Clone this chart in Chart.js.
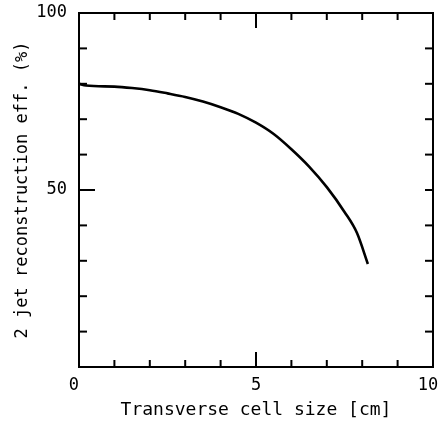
<!DOCTYPE html>
<html>
<head>
<meta charset="utf-8">
<script src="https://cdn.jsdelivr.net/npm/chart.js@4"></script>
<style>
  html, body { margin: 0; padding: 0; background: #fff; }
  .chart-wrapper { width: 441px; height: 422px; position: relative; }
</style>
</head>
<body>
<div class="chart-wrapper"><canvas id="eff-chart"></canvas></div>
<script>
// curve
const cellSize = [0, 0.2, 1, 1.5, 2, 2.5, 3, 3.5, 4, 4.5, 5, 5.5, 6, 6.5, 7, 7.5, 7.85, 8.16];
const efficiency = [80.0, 79.5, 79.2, 78.8, 78.2, 77.3, 76.3, 75.0, 73.4, 71.5, 69.0, 65.8, 61.5, 56.6, 50.8, 43.8, 37.9, 29.1];

const xLabels = [0, 5, 10];
const yLabels = [50, 100];
const xTicks = [1, 2, 3, 4, 5, 6, 7, 8, 9];
const yTicks = [10, 20, 30, 40, 50, 60, 70, 80, 90];

const monoFont = '"DejaVu Sans Mono", monospace';

// frame with inward tick marks on all four sides
const frameTicks = {
  id: 'frameTicks',
  afterDraw(chart) {
    const { ctx, chartArea: a, scales: { x, y } } = chart;
    const seg = (x1, y1, x2, y2) => { ctx.beginPath(); ctx.moveTo(x1, y1); ctx.lineTo(x2, y2); ctx.stroke(); };
    ctx.save();
    ctx.strokeStyle = '#000';
    ctx.lineWidth = 2;
    ctx.strokeRect(a.left, a.top, a.right - a.left, a.bottom - a.top);
    xTicks.forEach(v => {
      const px = x.getPixelForValue(v);
      const len = v === 5 ? 15 : 7;
      seg(px, a.bottom, px, a.bottom - len);
      seg(px, a.top, px, a.top + len);
    });
    yTicks.forEach(v => {
      const py = y.getPixelForValue(v);
      seg(a.left, py, a.left + (v === 50 ? 16 : 8), py);
      seg(a.right, py, a.right - 8, py);
    });
    ctx.restore();
  }
};

const ctx = document.getElementById('eff-chart').getContext('2d');
new Chart(ctx, {
  type: 'line',
  data: {
    datasets: [{
      data: cellSize.map((v, i) => ({ x: v, y: efficiency[i] })),
      borderColor: '#000',
      borderWidth: 2.6,
      pointRadius: 0,
      fill: false,
      cubicInterpolationMode: 'monotone',
    }],
  },
  options: {
    responsive: true,
    maintainAspectRatio: false,
    animation: false,
    layout: { padding: { top: 13, right: 8, left: 0, bottom: 0 } },
    plugins: { legend: { display: false }, tooltip: { enabled: false } },
    scales: {
      x: {
        type: 'linear',
        min: 0,
        max: 10,
        afterBuildTicks: s => { s.ticks = xLabels.map(v => ({ value: v })); },
        afterFit: s => { s.height = 55; s.paddingLeft = 0; s.paddingRight = 0; },
        grid: { display: false, drawTicks: false },
        border: { display: false },
        ticks: {
          color: '#000',
          padding: 8,
          maxRotation: 0,
          font: { family: monoFont, size: 17 },
          // the end labels sit a little left of their ticks in the original
          callback: v => (v === 5 ? '5' : v + ' '),
        },
        title: {
          display: true,
          text: 'Transverse cell size [cm]',
          color: '#000',
          padding: { top: 0, bottom: 1 },
          font: { family: monoFont, size: 18 },
        },
      },
      y: {
        type: 'linear',
        min: 0,
        max: 100,
        afterBuildTicks: s => { s.ticks = yLabels.map(v => ({ value: v })); },
        afterFit: s => { s.width = 79; s.paddingTop = 0; s.paddingBottom = 0; },
        grid: { display: false, drawTicks: false },
        border: { display: false },
        ticks: { color: '#000', padding: 12, font: { family: monoFont, size: 17 } },
        title: {
          display: true,
          text: '2 jet reconstruction eff. (%)',
          color: '#000',
          padding: { top: 12, bottom: 0 },
          font: { family: monoFont, size: 17 },
        },
      },
    },
  },
  plugins: [frameTicks],
});
</script>
</body>
</html>
